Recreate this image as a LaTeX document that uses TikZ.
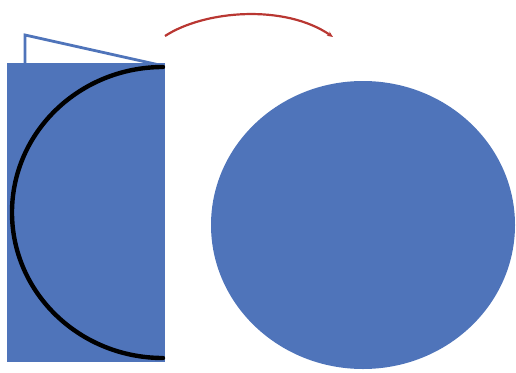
\documentclass[tikz,border=0pt]{standalone}
\usetikzlibrary{arrows.meta}
\definecolor{shapeblue}{RGB}{79,116,186}
\definecolor{arrowred}{RGB}{185,55,50}
\begin{document}
\begin{tikzpicture}[x=1pt,y=-1pt,
  bluefill/.style={fill=shapeblue,draw=none},
  flapline/.style={draw=shapeblue,line width=2.8pt,line join=miter},
  arcline/.style={draw=black,line width=4.4pt,line cap=round},
  turnarrow/.style={draw=arrowred,line width=2.2pt,-{Stealth[length=6pt,width=5pt]}}]
\useasboundingbox (0,0) rectangle (516,372);
% folded sheet
\fill[bluefill] (7,63) rectangle (165,362);
\draw[flapline] (25,63) -- (25,35) -- (164,66);
% half circle on the sheet
\draw[arcline] (163,67) arc[start angle=270,end angle=90,x radius=151,y radius=145.5];
% rotation arrow
\coordinate (a1) at (165,36);
\coordinate (a2) at (333,37);
\draw[turnarrow] (a1) .. controls (205,10) and (285,4) .. (a2);
% resulting circle
\fill[bluefill] (363,225) ellipse[x radius=152,y radius=144];
\end{tikzpicture}
\end{document}
